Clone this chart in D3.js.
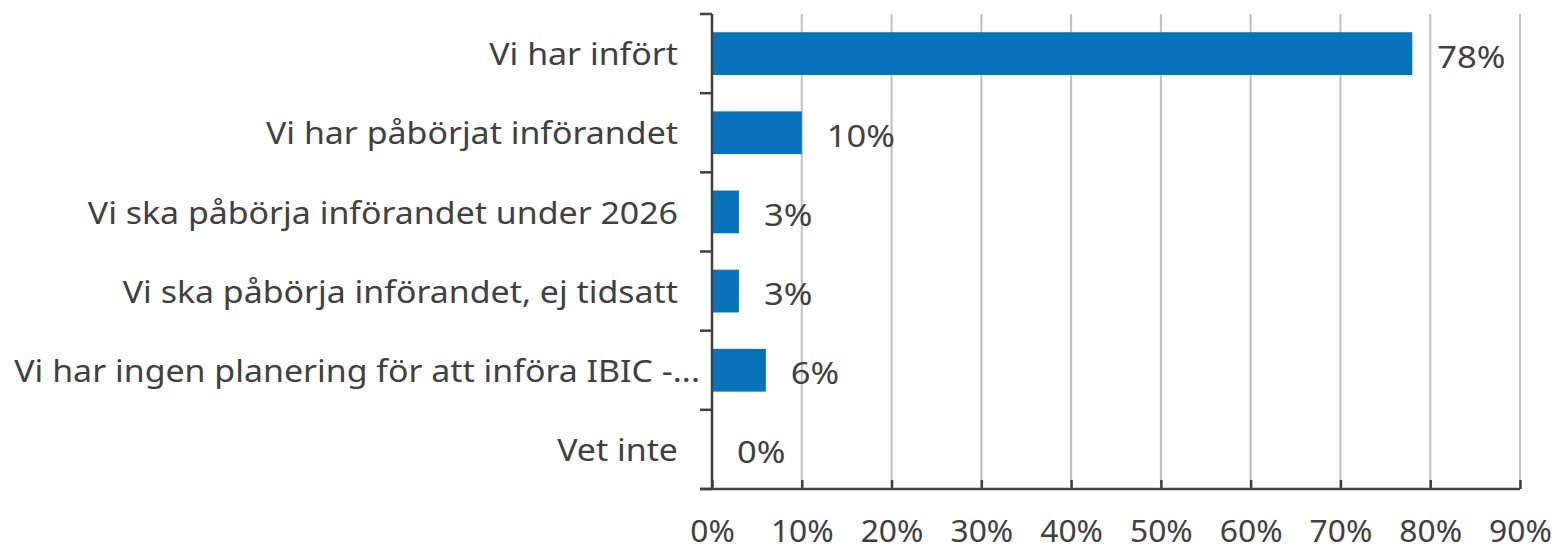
<!DOCTYPE html>
<html lang="sv">
<head>
    <meta charset="UTF-8">
    <title>IBIC införande</title>
    <script src="https://d3js.org/d3.v7.min.js"></script>
    <style>
        body { margin: 0; background: #fff; }
        svg text { font-family: "Noto Sans", "Open Sans", sans-serif; fill: #404040; }
    </style>
</head>
<body>
    <svg id="chart"></svg>

    <script>
        // Data
        var categories = [
            "Vi har infört",
            "Vi har påbörjat införandet",
            "Vi ska påbörja införandet under 2026",
            "Vi ska påbörja införandet, ej tidsatt",
            "Vi har ingen planering för att införa IBIC -...",
            "Vet inte"
        ];
        var values = [78, 10, 3, 3, 6, 0];
        var xTicks = [0, 10, 20, 30, 40, 50, 60, 70, 80, 90];

        var W = 1561, H = 546;
        var margin = { top: 14, right: 41, bottom: 57, left: 712 };
        var width = W - margin.left - margin.right,
            height = H - margin.top - margin.bottom;

        // the original text is a bit wider than the font, stretch it horizontally
        var stretch = 1.13;

        var svg = d3.select("#chart")
            .attr("width", W)
            .attr("height", H);

        var g = svg.append("g")
            .attr("transform", "translate(" + margin.left + "," + margin.top + ")");

        var x = d3.scaleLinear().domain([0, 90]).range([0, width]);
        var y = d3.scaleBand().domain(categories).range([0, height]).paddingInner(0.46).paddingOuter(0.23);

        // gridlines
        g.selectAll(".grid")
            .data(xTicks.filter(d => d > 0))
            .enter().append("line")
            .attr("x1", d => x(d)).attr("x2", d => x(d))
            .attr("y1", 0).attr("y2", height)
            .attr("stroke", "#c0c0c0")
            .attr("stroke-width", 2);

        // bars
        g.selectAll(".bar")
            .data(values)
            .enter().append("rect")
            .attr("x", 0)
            .attr("y", (d, i) => y(categories[i]))
            .attr("width", d => x(d))
            .attr("height", y.bandwidth())
            .attr("fill", "#0673bb");

        // value labels
        g.selectAll(".val")
            .data(values)
            .enter().append("text")
            .attr("transform", (d, i) => "translate(" + (x(d) + 25) + "," + (y(categories[i]) + y.bandwidth() / 2 + 2) + ") scale(1.15,1)")
            .attr("dominant-baseline", "central")
            .style("font-size", "30px")
            .text(d => d + "%");

        // y axis: line plus outward ticks at band edges
        var edges = d3.range(categories.length + 1).map(i => i * y.step());
        g.append("line")
            .attr("x1", 0).attr("x2", 0).attr("y1", 0).attr("y2", height)
            .attr("stroke", "#404040").attr("stroke-width", 2.5);
        g.selectAll(".ytick")
            .data(edges)
            .enter().append("line")
            .attr("x1", -12).attr("x2", 0)
            .attr("y1", d => d).attr("y2", d => d)
            .attr("stroke", "#404040").attr("stroke-width", 2.5);

        // category labels
        g.selectAll(".cat")
            .data(categories)
            .enter().append("text")
            .attr("transform", d => "translate(-34," + (y(d) + y.bandwidth() / 2) + ") scale(" + stretch + ",1)")
            .attr("dominant-baseline", "central")
            .attr("text-anchor", "end")
            .style("font-size", "30px")
            .text(d => d)
            .each(function(d) {
                // the truncated label runs closer to the axis, like the original
                var w = this.getComputedTextLength() * stretch;
                if (margin.left - 34 - w < 18) {
                    d3.select(this).attr("transform", "translate(-12," + (y(d) + y.bandwidth() / 2) + ") scale(" + stretch + ",1)");
                }
            });

        // x axis with inward ticks
        var xAxis = g.append("g")
            .attr("transform", "translate(0," + height + ")")
            .call(d3.axisBottom(x).tickValues(xTicks).tickFormat(d => d + "%").tickSizeInner(-9).tickSizeOuter(0).tickPadding(0));
        xAxis.select(".domain").remove();
        xAxis.selectAll(".tick line").attr("stroke", "#404040").attr("stroke-width", 2.5);
        xAxis.selectAll(".tick text")
            .attr("y", 0)
            .attr("dy", 0)
            .attr("transform", "translate(0,53) scale(1.06,1)")
            .style("font-size", "30px");
        g.append("line")
            .attr("x1", -12).attr("x2", width)
            .attr("y1", height).attr("y2", height)
            .attr("stroke", "#404040").attr("stroke-width", 2.5);
    </script>
</body>
</html>
